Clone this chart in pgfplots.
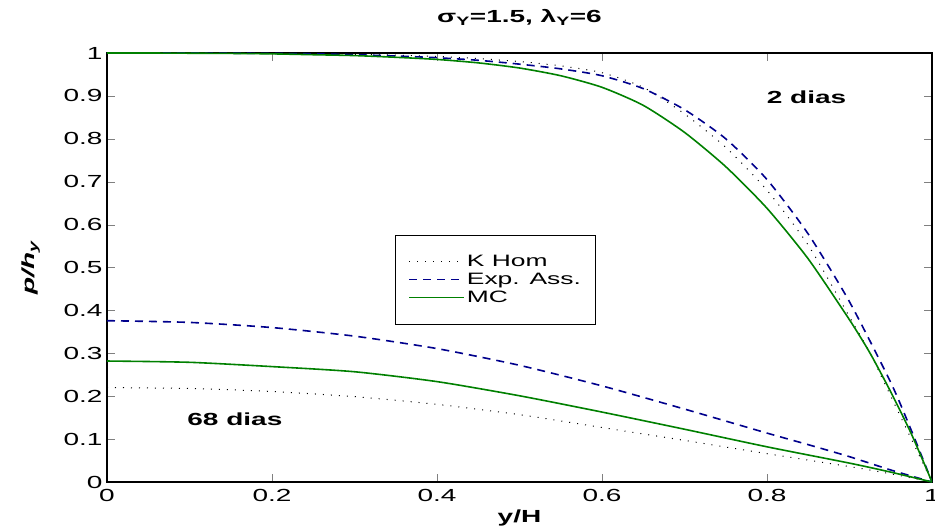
\documentclass[border=0pt]{standalone}
\usepackage{fontspec}
\setmainfont{Liberation Sans}[FakeStretch=1.6]
\usepackage{pgfplots}
\pgfplotsset{compat=1.18}
\definecolor{mgreen}{rgb}{0,0.5,0}
\definecolor{mblue}{rgb}{0,0,0.55}
\begin{document}
\begin{tikzpicture}
\begin{axis}[
  scale only axis, width=825pt, height=429pt,
  xmin=0, xmax=1, ymin=0, ymax=1,
  xtick={0,0.2,0.4,0.6,0.8,1}, ytick={0,0.1,...,1},
  tick align=inside, major tick length=8pt,
  /pgf/number format/assume math mode=true,
  tick label style={font=\fontsize{17.5}{20}\selectfont},
  xticklabel style={yshift=-4pt},
  yticklabel style={xshift=-1pt},
  xticklabels={0,0.2,0.4,0.6,0.8,1},
  yticklabels={0,0.1,0.2,0.3,0.4,0.5,0.6,0.7,0.8,0.9,1},
  axis line style={line width=1.1pt},
  title={\textbf{σ\textsubscript{Y}=1.5, λ\textsubscript{Y}=6}},
  title style={font=\fontsize{17.5}{20}\selectfont, at={(axis description cs:0.5,1)}, anchor=base, yshift=24pt},
  xlabel={\textbf{y/H}},
  xlabel style={font=\fontsize{17.5}{20}\selectfont, at={(axis description cs:0.5,0)}, anchor=center, yshift=-36pt},
  ylabel={\textbf{\textit{p/h}\textsubscript{\textit{y}}}},
  ylabel style={font=\fontsize{17.5}{20}\selectfont, at={(axis description cs:-0.092,0.5)}, anchor=center},
  legend cell align=left,
  legend image code/.code={\draw[#1] (0pt,0pt) -- (55pt,0pt);},
  legend style={at={(axis cs:0.349,0.576)}, anchor=north west, draw=black, line width=0.8pt,
    font=\fontsize{16.5}{20}\selectfont, inner xsep=13pt, inner ysep=18pt, row sep=1pt,
    nodes={inner sep=2pt}},
]
% upper (2 dias)
\addplot[black, line width=1pt, dash pattern=on 1pt off 7pt, smooth, tension=0.4] coordinates {
(0,1) (0.1,1) (0.2,0.999) (0.3,0.997) (0.35,0.995) (0.4,0.992) (0.45,0.987) (0.5,0.98) (0.55,0.97) (0.6,0.954) (0.65,0.92) (0.7,0.858) (0.75,0.78) (0.8,0.68) (0.85,0.552) (0.9,0.385) (0.925,0.3) (0.95,0.2) (0.975,0.1) (1,0)};
\addplot[mblue, line width=1.6pt, dash pattern=on 8pt off 6pt, smooth, tension=0.4] coordinates {
(0,1) (0.1,1) (0.2,0.999) (0.25,0.998) (0.3,0.996) (0.35,0.993) (0.4,0.989) (0.45,0.983) (0.5,0.974) (0.55,0.963) (0.6,0.947) (0.65,0.917) (0.7,0.868) (0.75,0.8) (0.8,0.705) (0.85,0.578) (0.9,0.42) (0.95,0.232) (0.975,0.12) (1,0)};
\addplot[mgreen, line width=1.6pt, smooth, tension=0.4] coordinates {
(0,1) (0.05,1) (0.1,0.9995) (0.15,0.999) (0.2,0.998) (0.25,0.996) (0.3,0.994) (0.35,0.99) (0.4,0.985) (0.45,0.977) (0.5,0.965) (0.55,0.947) (0.6,0.92) (0.65,0.878) (0.7,0.815) (0.75,0.735) (0.8,0.638) (0.85,0.52) (0.9,0.378) (0.925,0.3) (0.95,0.21) (0.975,0.112) (1,0)};
\legend{K Hom, Exp. Ass., MC}
% lower (68 dias)
\addplot[black, line width=1pt, dash pattern=on 1pt off 7pt, forget plot, smooth, tension=0.4] coordinates {
(0,0.22) (0.1,0.218) (0.2,0.211) (0.3,0.199) (0.4,0.181) (0.5,0.157) (0.6,0.127) (0.7,0.097) (0.8,0.066) (0.9,0.036) (0.95,0.019) (1,0)};
\addplot[mblue, line width=1.6pt, dash pattern=on 8pt off 6pt, forget plot, smooth, tension=0.4] coordinates {
(0,0.376) (0.1,0.372) (0.2,0.36) (0.3,0.34) (0.4,0.311) (0.5,0.272) (0.6,0.224) (0.7,0.17) (0.8,0.114) (0.85,0.087) (0.9,0.059) (0.95,0.028) (1,0)};
\addplot[mgreen, line width=1.6pt, forget plot, smooth, tension=0.4] coordinates {
(0,0.282) (0.1,0.279) (0.2,0.269) (0.3,0.257) (0.4,0.234) (0.5,0.201) (0.6,0.163) (0.7,0.123) (0.8,0.082) (0.9,0.044) (0.95,0.023) (1,0)};
\node[font=\fontsize{17.5}{20}\selectfont\bfseries] at (axis cs:0.848,0.897) {2 dias};
\node[font=\fontsize{17.5}{20}\selectfont\bfseries] at (axis cs:0.155,0.147) {68 dias};
\coordinate (sw) at (rel axis cs:0,0);
\coordinate (ne) at (rel axis cs:1,1);
\end{axis}
\pgfresetboundingbox
\path[use as bounding box] ([xshift=-107pt,yshift=-49pt]sw) rectangle ([xshift=3pt,yshift=53pt]ne);
\end{tikzpicture}
\end{document}
